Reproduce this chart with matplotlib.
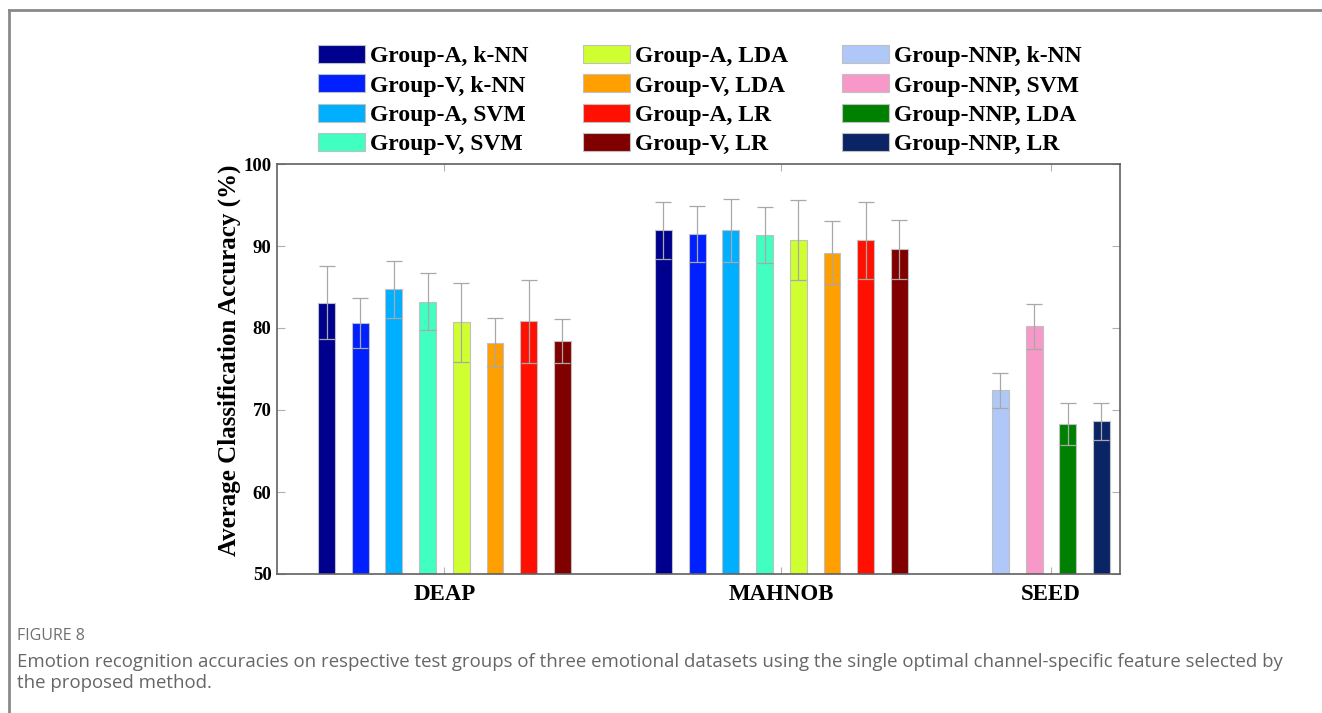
import matplotlib.pyplot as plt
from matplotlib.lines import Line2D

plt.rcParams['font.family'] = ['Liberation Serif', 'DejaVu Serif']

# Datos
clasificadores = ['Group-A, k-NN', 'Group-V, k-NN', 'Group-A, SVM', 'Group-V, SVM',
                  'Group-A, LDA', 'Group-V, LDA', 'Group-A, LR', 'Group-V, LR']
clasificadores_nnp = ['Group-NNP, k-NN', 'Group-NNP, SVM', 'Group-NNP, LDA', 'Group-NNP, LR']

deap = [83.1, 80.6, 84.7, 83.2, 80.7, 78.2, 80.8, 78.4]
deap_err = [4.5, 3.0, 3.5, 3.5, 4.8, 3.0, 5.1, 2.7]
mahnob = [91.9, 91.5, 91.9, 91.3, 90.7, 89.2, 90.7, 89.6]
mahnob_err = [3.5, 3.4, 3.8, 3.4, 4.9, 3.8, 4.7, 3.6]
seed = [72.4, 80.2, 68.3, 68.6]
seed_err = [2.1, 2.7, 2.6, 2.3]

datasets = ['DEAP', 'MAHNOB', 'SEED']

colores = ['#00008F', '#0020FF', '#00AFFF', '#40FFC0',
           '#CFFF30', '#FF9F00', '#FF1000', '#800000']
colores_nnp = ['#B0C8F8', '#F898C8', '#008000', '#0A2466']

fig = plt.figure(figsize=(13.22, 7.13), dpi=100)
ax = fig.add_axes([277 / 1322, 1 - 574 / 713, 843 / 1322, 410 / 713])

ancho = 0.5
err_kw = dict(ecolor='#a8a8a8', elinewidth=0.9, capsize=5.5, capthick=0.9)
borde = dict(edgecolor='#c0c0c0', linewidth=0.8)

for i in range(8):
    ax.bar(1 + i, deap[i], ancho, yerr=deap_err[i], color=colores[i],
           label=clasificadores[i], error_kw=err_kw, **borde)
    ax.bar(11 + i, mahnob[i], ancho, yerr=mahnob_err[i], color=colores[i],
           error_kw=err_kw, **borde)
for i in range(4):
    ax.bar(21 + i, seed[i], ancho, yerr=seed_err[i], color=colores_nnp[i],
           label=clasificadores_nnp[i], error_kw=err_kw, **borde)

ax.set_ylim(50, 100)
ax.set_xlim(-0.47, 24.55)
ax.set_yticks([50, 60, 70, 80, 90, 100])
ax.set_xticks([4.5, 14.5, 22.5])
ax.set_xticklabels(datasets, fontsize=16.5, fontweight='bold')
for t in ax.get_yticklabels():
    t.set_fontweight('bold')
    t.set_fontsize(13.5)
ax.set_ylabel('Average Classification Accuracy (%)', fontsize=18, fontweight='bold')
ax.yaxis.set_label_coords(-0.043, 0.522)
ax.tick_params(axis='y', direction='in', length=6, color='#b0b0b0', right=True, pad=4)
ax.tick_params(axis='x', direction='in', length=5, color='#b0b0b0', top=True, pad=7)
for s in ax.spines.values():
    s.set_color('#606060')
    s.set_linewidth(1.2)

fig.legend(loc='upper left', bbox_to_anchor=(318 / 1322, 1 - 45 / 713), ncol=3,
           frameon=False, prop={'weight': 'bold', 'size': 17}, handlelength=2.0,
           handleheight=0.8, handletextpad=0.2, columnspacing=2.3, labelspacing=0.3,
           borderpad=0, borderaxespad=0)

# Marco y pie de figura
fig.add_artist(Line2D([9 / 1322, 1], [1 - 10 / 713, 1 - 10 / 713], color='#8a8a8a', lw=2))
fig.add_artist(Line2D([9 / 1322, 9 / 1322], [0, 1 - 10 / 713], color='#8a8a8a', lw=2))
fig.text(17 / 1322, 1 - 636 / 713, 'FIGURE 8', family='Open Sans', fontsize=11.5,
         color='#707070', va='center')
fig.text(17 / 1322, 1 - 653 / 713,
         'Emotion recognition accuracies on respective test groups of three emotional datasets '
         'using the single optimal channel-specific feature selected by\nthe proposed method.',
         family='Open Sans', fontsize=13.4, color='#666666', va='top', linespacing=1.2)

plt.savefig('out.png')
